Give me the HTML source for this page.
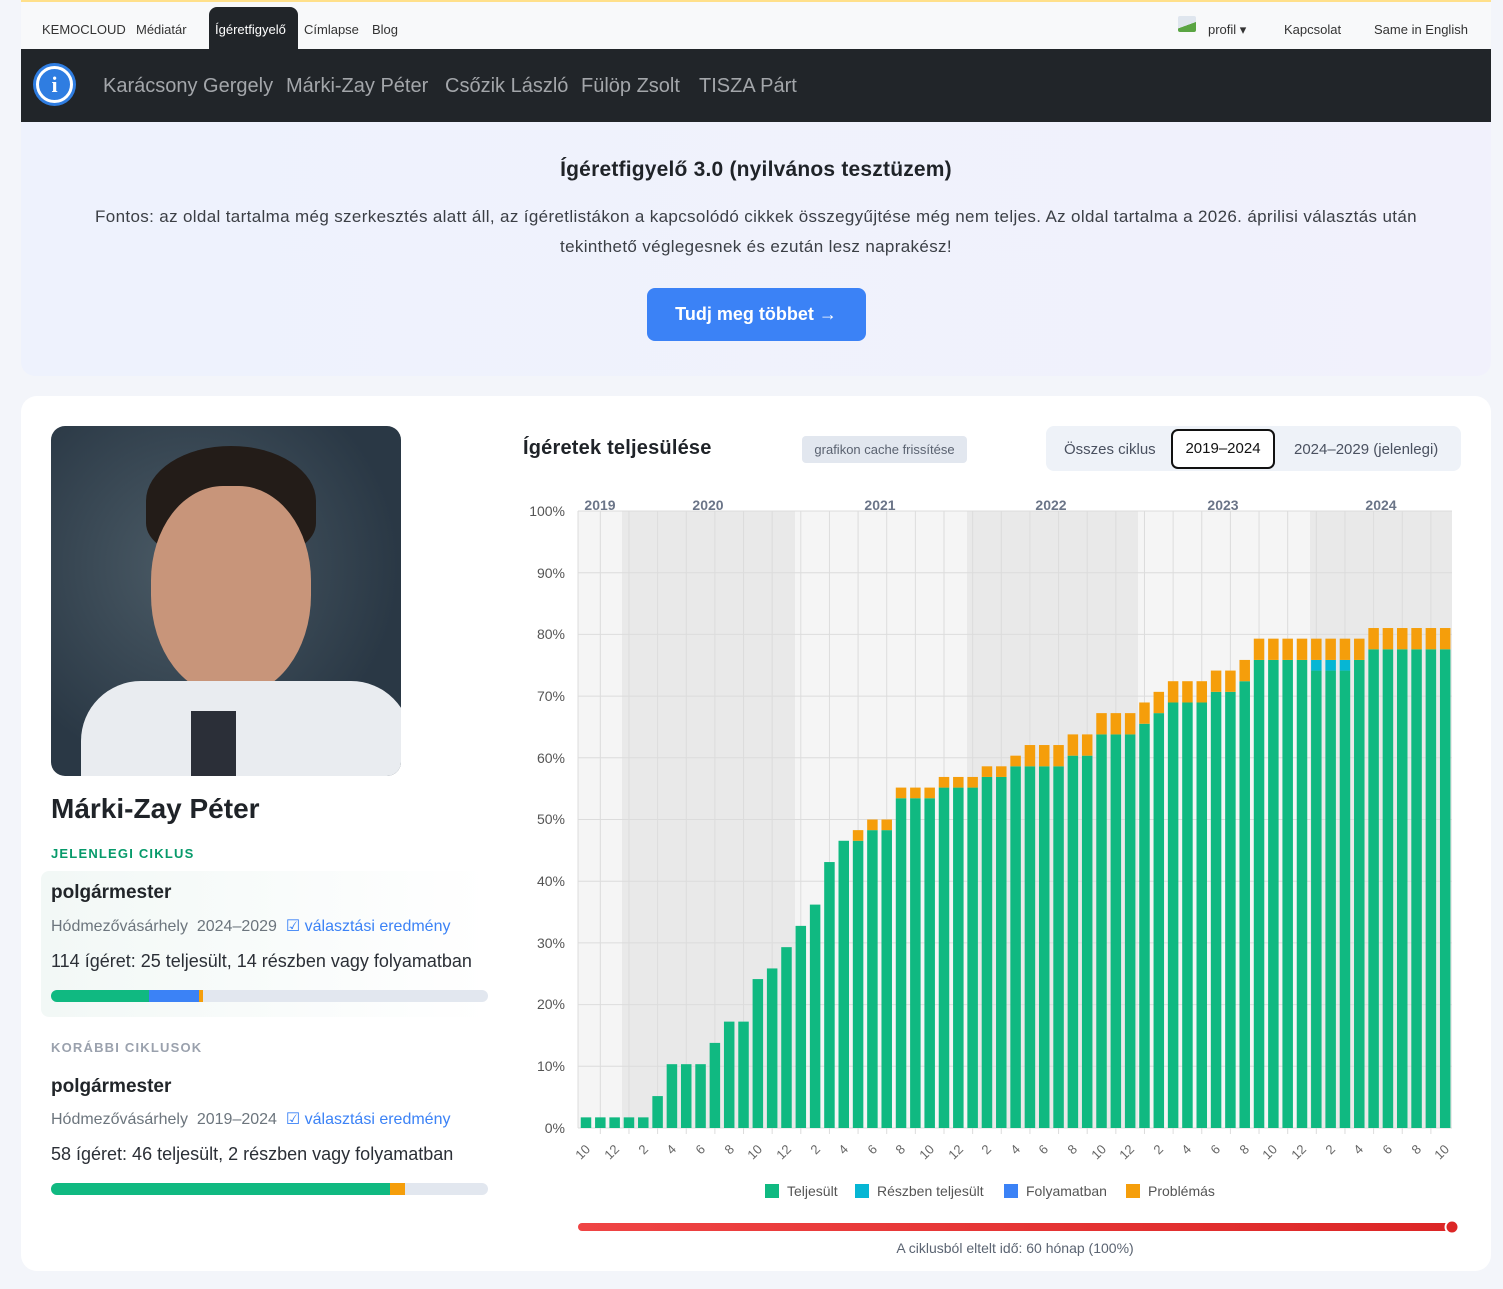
<!DOCTYPE html>
<html><head><meta charset="utf-8">
<style>
*{box-sizing:border-box;margin:0;padding:0}
body{width:1503px;height:1289px;background:#f3f5fa;font-family:"Liberation Sans",sans-serif;position:relative;overflow:hidden;color:#212529}
.abs{position:absolute}
.top{left:21px;top:0;width:1470px;height:49px;background:#f8f9fa;border-top:2px solid #ffe08a}
.top span{position:absolute;top:20px;font-size:13px;color:#333}
.nav{left:21px;top:49px;width:1470px;height:73px;background:#212529}
.nav span{position:absolute;top:26px;font-size:20px;color:#a3a6aa}
.banner{left:21px;top:122px;width:1470px;height:254px;background:linear-gradient(90deg,#eef2fd,#f1f1fc);border-radius:0 0 14px 14px;text-align:center}
.card{left:21px;top:396px;width:1470px;height:875px;background:#fff;border-radius:16px}
</style></head><body>
<div class="abs top">
 <span style="left:21px">KEMOCLOUD</span>
 <span style="left:115px">Médiatár</span>
 <div class="abs" style="left:188px;top:5px;width:89px;height:44px;background:#212529;border-radius:8px 8px 0 0"></div>
 <span style="left:194px;color:#fff">Ígéretfigyelő</span>
 <span style="left:283px">Címlapse</span>
 <span style="left:351px">Blog</span>
 <div class="abs" style="left:1157px;top:14px;width:18px;height:16px;background:linear-gradient(160deg,#dfe6ee 55%,#5aa543 56%);border-radius:2px"></div>
 <span style="left:1187px">profil ▾</span>
 <span style="left:1263px">Kapcsolat</span>
 <span style="left:1353px">Same in English</span>
</div>
<div class="abs nav">
 <div class="abs" style="left:15px;top:17px;width:37px;height:37px;border-radius:50%;background:#2f7de1;border:3px solid #fff;box-shadow:0 0 0 3px #2f7de1;color:#fff;font:bold 22px 'Liberation Serif',serif;text-align:center;line-height:31px">i</div>
 <span style="left:82px">Karácsony Gergely</span>
 <span style="left:265px">Márki-Zay Péter</span>
 <span style="left:424px">Csőzik László</span>
 <span style="left:560px">Fülöp Zsolt</span>
 <span style="left:678px">TISZA Párt</span>
</div>
<div class="abs banner">
 <div style="margin-top:36px;font-size:21px;font-weight:bold;color:#1f2328;letter-spacing:0.2px">Ígéretfigyelő 3.0 (nyilvános tesztüzem)</div>
 <div style="margin:20px auto 0;width:1395px;font-size:17px;line-height:30px;color:#3b3f45;letter-spacing:0.35px">Fontos: az oldal tartalma még szerkesztés alatt áll, az ígéretlistákon a kapcsolódó cikkek összegyűjtése még nem teljes. Az oldal tartalma a 2026. áprilisi választás után tekinthető véglegesnek és ezután lesz naprakész!</div>
 <div style="margin:26px auto 0;width:219px;height:53px;background:#3b82f6;border-radius:8px;color:#fff;font-weight:bold;font-size:18px;line-height:53px">Tudj meg többet →</div>
</div>
<div class="abs card"></div>
<div class="abs" style="left:51px;top:426px;width:350px;height:350px;border-radius:14px;overflow:hidden;background:radial-gradient(ellipse at 40% 40%,#4b5b66,#2a3845 70%)">
 <div class="abs" style="left:95px;top:20px;width:170px;height:110px;border-radius:50% 50% 30% 30%;background:#231c18"></div>
 <div class="abs" style="left:100px;top:60px;width:160px;height:210px;border-radius:45% 45% 48% 48%;background:#c8957a"></div>
 <div class="abs" style="left:30px;top:255px;width:330px;height:120px;border-radius:60px 60px 0 0;background:#e9ecf0"></div>
 <div class="abs" style="left:140px;top:285px;width:45px;height:70px;background:#2b2f38"></div>
</div>
<div class="abs" style="left:51px;top:793px;font-size:28px;font-weight:bold;color:#1f2328">Márki-Zay Péter</div>
<div class="abs" style="left:51px;top:846px;font-size:13px;font-weight:bold;letter-spacing:1.2px;color:#069a6a">JELENLEGI CIKLUS</div>
<div class="abs" style="left:41px;top:871px;width:447px;height:146px;border-radius:8px;background:linear-gradient(90deg,#f2f8f6,#fff)"></div>
<div class="abs" style="left:51px;top:882px;font-size:19px;font-weight:bold">polgármester</div>
<div class="abs" style="left:51px;top:916px;font-size:16px;color:#6c757d">Hódmezővásárhely&nbsp;&nbsp;2024–2029&nbsp;&nbsp;<span style="color:#3b82f6">☑ választási eredmény</span></div>
<div class="abs" style="left:51px;top:951px;font-size:18px;color:#2b2f36">114 ígéret: 25 teljesült, 14 részben vagy folyamatban</div>
<div class="abs" style="left:51px;top:990px;width:437px;height:12px;border-radius:6px;background:#e2e7ef;overflow:hidden"><div style="width:98px;height:12px;background:#10b981;float:left"></div><div style="width:50px;height:12px;background:#3b82f6;float:left"></div><div style="width:4px;height:12px;background:#f59e0b;float:left"></div></div>
<div class="abs" style="left:51px;top:1040px;font-size:13px;font-weight:bold;letter-spacing:1.2px;color:#9aa1ad">KORÁBBI CIKLUSOK</div>
<div class="abs" style="left:51px;top:1076px;font-size:19px;font-weight:bold">polgármester</div>
<div class="abs" style="left:51px;top:1109px;font-size:16px;color:#6c757d">Hódmezővásárhely&nbsp;&nbsp;2019–2024&nbsp;&nbsp;<span style="color:#3b82f6">☑ választási eredmény</span></div>
<div class="abs" style="left:51px;top:1144px;font-size:18px;color:#2b2f36">58 ígéret: 46 teljesült, 2 részben vagy folyamatban</div>
<div class="abs" style="left:51px;top:1183px;width:437px;height:12px;border-radius:6px;background:#e2e7ef;overflow:hidden"><div style="width:339px;height:12px;background:#10b981;float:left"></div><div style="width:15px;height:12px;background:#f59e0b;float:left"></div></div>

<div class="abs" style="left:523px;top:437px;font-size:20px;font-weight:bold;color:#1f2328;letter-spacing:0.2px">Ígéretek teljesülése</div>
<div class="abs" style="left:802px;top:436px;width:165px;height:27px;background:#e2e7ef;border-radius:4px;font-size:13px;color:#5a6270;text-align:center;line-height:27px">grafikon cache frissítése</div>
<div class="abs" style="left:1046px;top:426px;width:415px;height:45px;background:#eef2f8;border-radius:8px"></div>
<div class="abs" style="left:1064px;top:441px;font-size:15px;color:#4a5160">Összes ciklus</div>
<div class="abs" style="left:1171px;top:429px;width:104px;height:40px;background:#fff;border:2px solid #111;border-radius:7px;font-size:15px;text-align:center;line-height:36px;color:#111">2019–2024</div>
<div class="abs" style="left:1294px;top:441px;font-size:15px;color:#4a5160">2024–2029 (jelenlegi)</div>

<svg class="abs" style="left:0;top:0" width="1503" height="1289" font-family="Liberation Sans, sans-serif">
 <g id="bands"></g>
 <g id="grid" stroke="#dcdcdc" stroke-width="1"></g>
 <g id="bars"></g>
 <g font-size="14" fill="#555" text-anchor="end">
  <text x="565" y="516">100%</text><text x="565" y="578">90%</text><text x="565" y="639">80%</text><text x="565" y="701">70%</text><text x="565" y="763">60%</text><text x="565" y="824">50%</text><text x="565" y="886">40%</text><text x="565" y="948">30%</text><text x="565" y="1009">20%</text><text x="565" y="1071">10%</text><text x="565" y="1133">0%</text>
 </g>
 <g font-size="14" font-weight="bold" fill="#6b7588" text-anchor="middle">
  <text x="600" y="510">2019</text><text x="708" y="510">2020</text><text x="880" y="510">2021</text><text x="1051" y="510">2022</text><text x="1223" y="510">2023</text><text x="1381" y="510">2024</text>
 </g>
 <g font-size="13" fill="#666" text-anchor="end">
  <text transform="translate(591,1150) rotate(-45)">10</text><text transform="translate(620,1150) rotate(-45)">12</text><text transform="translate(649,1150) rotate(-45)">2</text><text transform="translate(677,1150) rotate(-45)">4</text><text transform="translate(706,1150) rotate(-45)">6</text><text transform="translate(735,1150) rotate(-45)">8</text><text transform="translate(763,1150) rotate(-45)">10</text><text transform="translate(792,1150) rotate(-45)">12</text><text transform="translate(821,1150) rotate(-45)">2</text><text transform="translate(849,1150) rotate(-45)">4</text><text transform="translate(878,1150) rotate(-45)">6</text><text transform="translate(906,1150) rotate(-45)">8</text><text transform="translate(935,1150) rotate(-45)">10</text><text transform="translate(964,1150) rotate(-45)">12</text><text transform="translate(992,1150) rotate(-45)">2</text><text transform="translate(1021,1150) rotate(-45)">4</text><text transform="translate(1049,1150) rotate(-45)">6</text><text transform="translate(1078,1150) rotate(-45)">8</text><text transform="translate(1107,1150) rotate(-45)">10</text><text transform="translate(1135,1150) rotate(-45)">12</text><text transform="translate(1164,1150) rotate(-45)">2</text><text transform="translate(1192,1150) rotate(-45)">4</text><text transform="translate(1221,1150) rotate(-45)">6</text><text transform="translate(1250,1150) rotate(-45)">8</text><text transform="translate(1278,1150) rotate(-45)">10</text><text transform="translate(1307,1150) rotate(-45)">12</text><text transform="translate(1336,1150) rotate(-45)">2</text><text transform="translate(1364,1150) rotate(-45)">4</text><text transform="translate(1393,1150) rotate(-45)">6</text><text transform="translate(1422,1150) rotate(-45)">8</text><text transform="translate(1450,1150) rotate(-45)">10</text>
 </g>
 <g font-size="14" fill="#555">
  <rect x="765" y="1184" width="14" height="14" fill="#10b981"/><text x="787" y="1196">Teljesült</text>
  <rect x="855" y="1184" width="14" height="14" fill="#06b6d4"/><text x="877" y="1196">Részben teljesült</text>
  <rect x="1004" y="1184" width="14" height="14" fill="#3b82f6"/><text x="1026" y="1196">Folyamatban</text>
  <rect x="1126" y="1184" width="14" height="14" fill="#f59e0b"/><text x="1148" y="1196">Problémás</text>
 </g>
 <defs><linearGradient id="rg" x1="0" x2="1"><stop offset="0" stop-color="#ef4444"/><stop offset="1" stop-color="#dc2626"/></linearGradient></defs>
 <rect x="578" y="1223" width="874" height="8" rx="4" fill="url(#rg)"/>
 <circle cx="1452" cy="1227" r="6.5" fill="#dc2626" stroke="#fff" stroke-width="2"/>
 <text x="1015" y="1253" font-size="14" fill="#5b6472" text-anchor="middle">A ciklusból eltelt idő: 60 hónap (100%)</text>
</svg>
<script>
(function(){
var ns="http://www.w3.org/2000/svg";
function r(g,x,y,w,h,f){var e=document.createElementNS(ns,"rect");e.setAttribute("x",x);e.setAttribute("y",y);e.setAttribute("width",w);e.setAttribute("height",h);e.setAttribute("fill",f);g.appendChild(e);}
function l(g,x1,y1,x2,y2){var e=document.createElementNS(ns,"line");e.setAttribute("x1",x1);e.setAttribute("y1",y1);e.setAttribute("x2",x2);e.setAttribute("y2",y2);g.appendChild(e);}
var B=document.getElementById("bands"),G=document.getElementById("grid"),R=document.getElementById("bars");
var x0=578,x1=1452,top=511,bot=1128,sp=14.32,c0=586;
var edges=[578,622,795,967,1138,1310,1452];
for(var i=0;i<6;i++)r(B,edges[i],top,edges[i+1]-edges[i],bot-top,i%2?"#e9e9e9":"#f5f5f5");
for(var p=0;p<=10;p++){var y=bot-p*61.7;l(G,x0,y,x1,y);}
l(G,x0,top,x0,bot);
for(var k=1;k<61;k+=2){var x=c0+sp*k;l(G,x,top,x,bot+6);}
var d=[];
function put(a,b,g,c,t){for(var i=a;i<=b;i++)d[i]=[g,c,t];}
put(0,4,1,0,1);put(5,5,3,0,3);put(6,8,6,0,6);put(9,9,8,0,8);put(10,11,10,0,10);
put(12,12,14,0,14);put(13,13,15,0,15);put(14,14,17,0,17);put(15,15,19,0,19);put(16,16,21,0,21);
put(17,17,25,0,25);put(18,18,27,0,27);put(19,19,27,0,28);put(20,21,28,0,29);put(22,24,31,0,32);
put(25,27,32,0,33);put(28,29,33,0,34);put(30,30,34,0,35);put(31,33,34,0,36);put(34,35,35,0,37);
put(36,38,37,0,39);put(39,39,38,0,40);put(40,40,39,0,41);put(41,43,40,0,42);put(44,45,41,0,43);
put(46,46,42,0,44);put(47,50,44,0,46);put(51,53,43,1,46);put(54,54,44,0,46);put(55,60,45,0,47);
var u=617/58,bw=10.5;
for(var i=0;i<61;i++){var x=c0+sp*i-bw/2,v=d[i];
 var yg=bot-v[0]*u,yc=bot-(v[0]+v[1])*u,yt=bot-v[2]*u;
 r(R,x,yg,bw,bot-yg,"#10b981");
 if(v[1])r(R,x,yc,bw,yg-yc,"#06b6d4");
 if(v[2]>v[0]+v[1])r(R,x,yt,bw,yc-yt,"#f59e0b");}
})();
</script>
</body></html>
